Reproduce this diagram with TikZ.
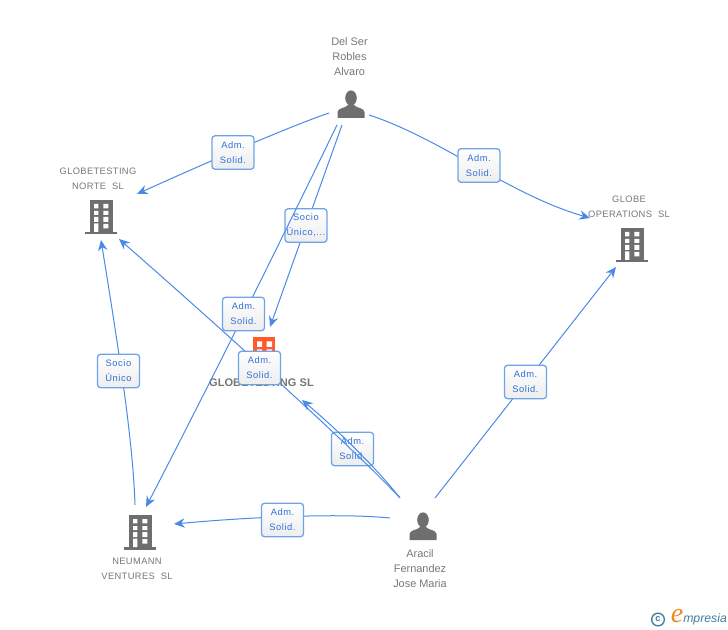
\documentclass[tikz,border=0pt]{standalone}
\usepackage{fontspec}
\setmainfont{Liberation Sans}
\newfontfamily\spaced[LetterSpace=6]{Liberation Sans}
\newfontfamily\lessspaced[LetterSpace=4]{Liberation Sans}
\newfontfamily\logoserif{Liberation Serif}
\usetikzlibrary{arrows.meta,shadings}
\definecolor{edgeblue}{HTML}{4A8AE6}
\definecolor{boxblue}{HTML}{6FA3E8}
\definecolor{txtblue}{HTML}{2F6FD8}
\definecolor{icongray}{HTML}{6E6E6E}
\definecolor{txtgray}{HTML}{777777}
\definecolor{brandorange}{HTML}{FF5A2C}
\definecolor{logoteal}{HTML}{3E7F9C}
\definecolor{logoorange}{HTML}{F08A1E}
\tikzset{
  x=0.75pt,y=-0.75pt,
  conn/.style={draw=edgeblue,line width=0.75pt,-{Stealth[length=8pt,width=7pt]}},
  tag/.style={draw=boxblue,line width=0.95pt,rounded corners=2.2pt,top color=white,bottom color=white!93!black,
    minimum width=31.5pt,minimum height=25pt,inner sep=0pt,align=center,text=txtblue,
    font=\spaced\fontsize{7}{11.2}\selectfont},
  captext/.style={text=txtgray,align=center,font=\lessspaced\fontsize{7}{11.2}\selectfont},
  namecap/.style={text=txtgray,align=center,font=\fontsize{8.2}{11.2}\selectfont},
  bldg/.style={inner sep=0pt,minimum width=26pt,minimum height=28pt,
    path picture={
      \begin{scope}[shift={(path picture bounding box.center)}]
        \fill[#1] (-11.5,-17) rectangle (11.5,15);
        \fill[#1] (-16,15) rectangle (16,17.5);
        \fill[white] (-7,-13) rectangle (-2.7,-8.7) (2.3,-13) rectangle (7.3,-8.7)
          (-7,-6) rectangle (-2.7,-2) (2.3,-6) rectangle (7.3,-2)
          (-7,0) rectangle (-2.7,5) (2.3,0) rectangle (7.3,5)
          (-7,6.5) rectangle (-2.7,15) (2.3,7) rectangle (7.3,11.5);
      \end{scope}}},
  smallbldg/.style={inner sep=0pt,minimum width=18pt,minimum height=27pt,
    path picture={
      \begin{scope}[shift={(path picture bounding box.center)}]
        \fill[#1] (-11,-18) rectangle (11,18);
        \fill[white] (-7,-13.5) rectangle (-2,-8) (2.5,-13.5) rectangle (8,-8)
          (-7,-5.5) rectangle (-2,-0.5) (2.5,-5.5) rectangle (8,-0.5);
      \end{scope}}},
  person/.style={inner sep=0pt,minimum width=22pt,minimum height=22pt,
    path picture={
      \begin{scope}[shift={(path picture bounding box.center)}]
        \fill[icongray] (0,-6) ellipse (5.8 and 7.6);
        \fill[icongray] (-13.5,14) -- (-13.5,8) .. controls (-13.5,4) and (-5,4) .. (-3,1)
          -- (3,1) .. controls (5,4) and (13.5,4) .. (13.5,8) -- (13.5,14) -- cycle;
      \end{scope}}},
}
\begin{document}
\begin{tikzpicture}
\useasboundingbox (0,0) rectangle (728,630);

% entities
\node[person] (delser) at (351,104) {};
\node[person] (aracil) at (423,526) {};
\node[bldg=icongray] (norte) at (101,217) {};
\node[bldg=icongray] (ops) at (632,245) {};
\node[bldg=icongray] (neumann) at (140,532) {};
\node[smallbldg=brandorange] (sl) at (264,355) {};

% captions
\node[namecap] (delsercap) at (349.5,56.5) {Del Ser\\Robles\\Alvaro};
\node[captext] (nortecap) at (98,178.5) {GLOBETESTING\\NORTE\ \ SL};
\node[captext] (opscap) at (629,206.5) {GLOBE\\OPERATIONS\ \ SL};
\node[captext] (neumanncap) at (137,568.5) {NEUMANN\\VENTURES\ \ SL};
\node[namecap] (aracilcap) at (420,569) {Aracil\\Fernandez\\Jose Maria};
\node[text=txtgray,font=\bfseries\fontsize{8.3}{10}\selectfont] (slcap) at (261.5,383) {GLOBETESTING SL};

% connectors and their labels
\draw[conn] ([shift={(-22,9)}]delser.center) .. controls (285,128) and (190,170) .. ([shift={(36,-23)}]norte.center);
\node[tag] (t1) at (233,152.5) {Adm.\\Solid.};

\draw[conn] ([shift={(18,11)}]delser.center) .. controls (440,138) and (510,195) .. ([shift={(-42,-27)}]ops.center);
\node[tag] (t2) at (479,165.5) {Adm.\\Solid.};

\draw[conn] ([shift={(-9,21)}]delser.center) -- ([shift={(6,-28)}]sl.center);
\node[tag] (t3) at (306,225.5) {Socio\\Único,...};

\draw[conn] ([shift={(-14,21)}]delser.center) .. controls (295,212) and (222,360) .. ([shift={(6,-25)}]neumann.center);
\node[tag] (t4) at (243.5,314) {Adm.\\Solid.};

\node[tag] (t5) at (352.5,449) {Adm.\\Solid.};
\draw[conn] ([shift={(-23,-28)}]aracil.center) .. controls (378,470) and (340,432) .. ([shift={(38,45)}]sl.center);

\draw[conn] ([shift={(-23,-28)}]aracil.center) .. controls (360,455) and (240,345) .. ([shift={(18,22)}]norte.center);
\node[tag] (t6) at (259.5,368) {Adm.\\Solid.};

\draw[conn] ([shift={(12,-28)}]aracil.center) -- ([shift={(-16,22)}]ops.center);
\node[tag] (t7) at (525.5,382) {Adm.\\Solid.};

\draw[conn] ([shift={(-33,-8)}]aracil.center) .. controls (340,513) and (250,517) .. ([shift={(34,-8)}]neumann.center);
\node[tag] (t8) at (282.5,520) {Adm.\\Solid.};

\draw[conn] ([shift={(-5,-27)}]neumann.center) .. controls (133,440) and (118,345) .. ([shift={(0,23)}]norte.center);
\node[tag] (t9) at (118.5,371) {Socio\\Único};

% brand mark
\node[circle,draw=logoteal,line width=1pt,inner sep=0pt,minimum size=9.5pt,text=logoteal,font=\bfseries\fontsize{7}{7}\selectfont] (copy) at (658,619.5) {c};
\node[text=logoorange,font=\logoserif\itshape\fontsize{21}{21}\selectfont,inner sep=0pt] (logoe) at (677,616) {e};
\node[text=logoteal,font=\itshape\fontsize{9.2}{10}\selectfont,inner sep=0pt,anchor=west] (logotxt) at (683,619.5) {mpresia};
\end{tikzpicture}
\end{document}
